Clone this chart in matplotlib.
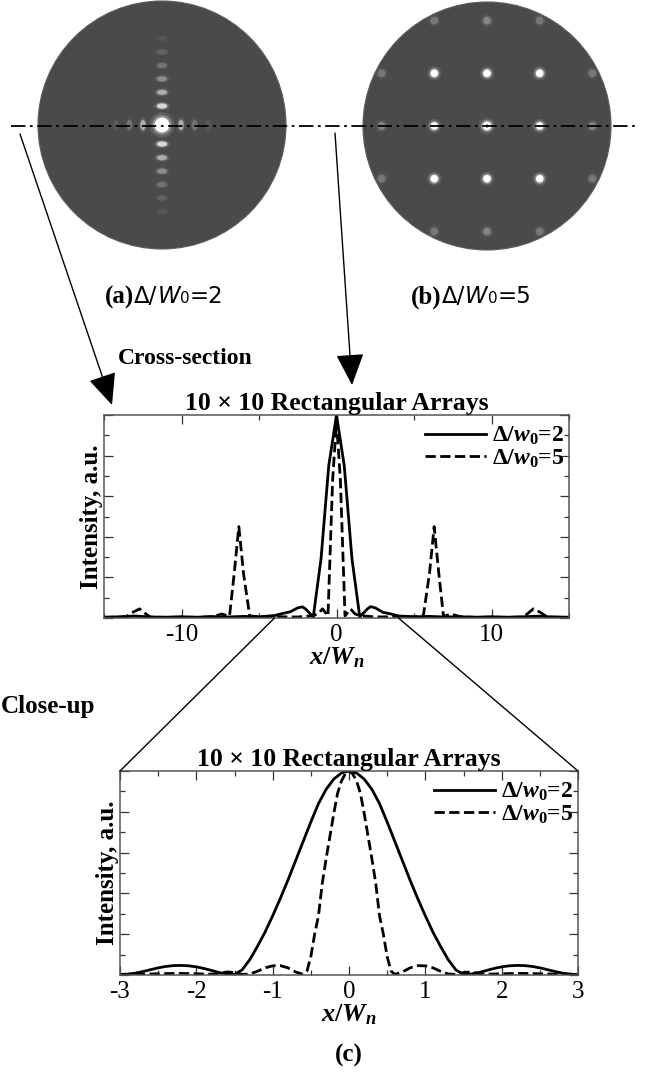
import numpy as np
import matplotlib
matplotlib.use('Agg')
import matplotlib.pyplot as plt
from matplotlib import rcParams
from matplotlib.patches import Circle, Ellipse, ConnectionPatch, FancyArrowPatch
from matplotlib.offsetbox import TextArea, HPacker, AnchoredOffsetbox
from matplotlib.ticker import MultipleLocator

rcParams['font.family'] = 'Liberation Serif'
rcParams['mathtext.fontset'] = 'custom'
rcParams['mathtext.rm'] = 'Liberation Serif:bold'
rcParams['mathtext.bf'] = 'Liberation Serif:bold'
rcParams['mathtext.it'] = 'Liberation Serif:italic:bold'
rcParams['axes.unicode_minus'] = False
rcParams['xtick.direction'] = 'in'
rcParams['ytick.direction'] = 'in'
rcParams['xtick.top'] = True
rcParams['ytick.right'] = True
rcParams['axes.linewidth'] = 1.1
rcParams['axes.edgecolor'] = '#555555'

# ---- far-field spots (positions in units of the spot spacing) ----
# (a) delta/w0 = 2 : single central lobe with sinc-like side lobes
spots_a_kx = [0, 0, 0, 0, 0, 0, 0, 0, 0, 0, 0, 0, 0,
              1.43, -1.43, 2.46, -2.46, 3.47, -3.47]
spots_a_ky = [0, 1.43, -1.43, 2.46, -2.46, 3.47, -3.47, 4.48, -4.48,
              5.5, -5.5, 6.5, -6.5,
              0, 0, 0, 0, 0, 0]
spots_a_level = [1.0, 0.7, 0.7, 0.45, 0.45, 0.28, 0.28, 0.17, 0.17,
                 0.1, 0.1, 0.05, 0.05,
                 0.45, 0.45, 0.18, 0.18, 0.07, 0.07]

# (b) delta/w0 = 5 : grating orders
spots_b_kx = [0, 1, -1, 0, 0, 1, 1, -1, -1,
              2, -2, 0, 0, 2, 2, -2, -2, 1, 1, -1, -1]
spots_b_ky = [0, 0, 0, 1, -1, 1, -1, 1, -1,
              0, 0, 2, -2, 1, -1, 1, -1, 2, -2, 2, -2]
spots_b_level = [1.0, 1.0, 1.0, 1.0, 1.0, 1.0, 1.0, 1.0, 1.0,
                 0.25, 0.25, 0.25, 0.25, 0.2, 0.2, 0.2, 0.2, 0.2, 0.2, 0.2, 0.2]

# ---- cross-section along x ----
cs_x_2 = [-15, -14, -13, -12, -11, -10, -9, -8, -7, -6, -5, -4, -3.5, -3,
          -2.5, -2.2, -2, -1.5, -1, -0.5, 0, 0.5, 1, 1.5, 2, 2.2, 2.5, 3,
          3.5, 4, 5, 6, 7, 8, 9, 10, 11, 12, 13, 14, 15]
cs_y_2 = [0.004, 0.006, 0.01, 0.005, 0.004, 0.006, 0.004, 0.007, 0.005,
          0.008, 0.006, 0.012, 0.022, 0.03, 0.05, 0.055, 0.045, 0.005,
          0.29, 0.75, 1.0, 0.75, 0.29, 0.006, 0.045, 0.056, 0.05, 0.028,
          0.02, 0.01, 0.006, 0.008, 0.005, 0.006, 0.004, 0.006, 0.004,
          0.006, 0.009, 0.005, 0.004]

cs_x_5 = [-15, -14, -13.6, -13.1, -12.7, -12.3, -12, -11, -10, -9, -8,
          -7.4, -7, -6.9, -6.6, -6.3, -6.0, -5.6, -5.2, -4.5, -3.5, -2.5,
          -1.5, -1.2, -0.9, -0.55, -0.25, 0, 0.25, 0.55, 0.9, 1.2, 1.5,
          2.5, 3.5, 4.5, 5.2, 5.6, 6.0, 6.3, 6.6, 6.9, 7, 7.4, 8, 9, 10,
          11, 12, 12.3, 12.7, 13.1, 13.6, 14, 15]
cs_y_5 = [0.003, 0.004, 0.005, 0.03, 0.045, 0.02, 0.004, 0.003, 0.004,
          0.003, 0.006, 0.02, 0.01, 0.01, 0.22, 0.45, 0.22, 0.01, 0.008,
          0.004, 0.006, 0.005, 0.012, 0.02, 0.045, 0.01, 0.68, 0.97, 0.68,
          0.01, 0.045, 0.02, 0.012, 0.005, 0.006, 0.004, 0.008, 0.01,
          0.22, 0.45, 0.22, 0.01, 0.01, 0.02, 0.006, 0.003, 0.004, 0.003,
          0.004, 0.02, 0.045, 0.03, 0.005, 0.004, 0.003]

# ---- close-up, -3 < x < 3 ----
cu_x_2 = [-3.0, -2.9, -2.8, -2.7, -2.6, -2.5, -2.4, -2.3, -2.2, -2.1, -2.0,
          -1.9, -1.8, -1.7, -1.6, -1.5, -1.4, -1.3, -1.2, -1.1, -1.0, -0.9,
          -0.8, -0.7, -0.6, -0.5, -0.4, -0.3, -0.2, -0.1, 0.0, 0.1, 0.2,
          0.3, 0.4, 0.5, 0.6, 0.7, 0.8, 0.9, 1.0, 1.1, 1.2, 1.3, 1.4, 1.5,
          1.6, 1.7, 1.8, 1.9, 2.0, 2.1, 2.2, 2.3, 2.4, 2.5, 2.6, 2.7, 2.8,
          2.9, 3.0]
cu_y_2 = [0.002, 0.004, 0.009, 0.017, 0.026, 0.035, 0.042, 0.046, 0.047,
          0.045, 0.04, 0.032, 0.022, 0.012, 0.005, 0.003, 0.025, 0.075,
          0.14, 0.21, 0.29, 0.375, 0.465, 0.56, 0.655, 0.75, 0.84, 0.91,
          0.96, 0.99, 1.0, 0.99, 0.96, 0.91, 0.84, 0.75, 0.655, 0.56,
          0.465, 0.375, 0.29, 0.21, 0.14, 0.075, 0.025, 0.003, 0.005,
          0.012, 0.022, 0.032, 0.04, 0.045, 0.047, 0.046, 0.042, 0.035,
          0.026, 0.017, 0.009, 0.004, 0.002]

cu_x_5 = [-3.0, -2.8, -2.6, -2.4, -2.2, -2.0, -1.8, -1.7, -1.6, -1.5, -1.4,
          -1.3, -1.2, -1.1, -1.0, -0.9, -0.8, -0.7, -0.6, -0.55, -0.5,
          -0.45, -0.4, -0.35, -0.3, -0.25, -0.2, -0.15, -0.1, -0.05, 0.0,
          0.05, 0.1, 0.15, 0.2, 0.25, 0.3, 0.35, 0.4, 0.45, 0.5, 0.55, 0.6,
          0.7, 0.8, 0.9, 1.0, 1.1, 1.2, 1.3, 1.4, 1.5, 1.6, 1.7, 1.8, 2.0,
          2.2, 2.4, 2.6, 2.8, 3.0]
cu_y_5 = [0.003, 0.004, 0.005, 0.007, 0.008, 0.006, 0.004, 0.008, 0.015,
          0.012, 0.003, 0.005, 0.018, 0.035, 0.045, 0.046, 0.035, 0.015,
          0.003, 0.02, 0.09, 0.2, 0.29, 0.45, 0.57, 0.68, 0.79, 0.89, 0.95,
          0.985, 1.0, 0.985, 0.95, 0.89, 0.79, 0.68, 0.57, 0.45, 0.29, 0.2,
          0.09, 0.02, 0.003, 0.015, 0.035, 0.046, 0.045, 0.035, 0.018,
          0.005, 0.003, 0.012, 0.015, 0.008, 0.004, 0.006, 0.008, 0.007,
          0.005, 0.004, 0.003]

zoom_span = (-4.0, 4.0)
series_labels = ['\u0394/$w_0$=2', '\u0394/$w_0$=5']
title = '10 \u00d7 10 Rectangular Arrays'

W, H = 649, 1072
fig = plt.figure(figsize=(W / 100, H / 100), dpi=100)


def px_axes(left, top, width, height):
    return fig.add_axes([left / W, 1 - (top + height) / H, width / W, height / H])


# ---- far-field images ----
def draw_disk(ax, kx, ky, level, pitch, core, glow):
    ax.set_xlim(-125, 125)
    ax.set_ylim(-125, 125)
    ax.axis('off')
    ax.add_patch(Circle((0, 0), 124, facecolor='#4a4a4a', edgecolor='#5c5c5c', lw=0.8))
    for x, y, lv in zip(kx, ky, level):
        if x == 0 and y == 0:
            w, h = core[0], core[0]
        elif x == 0:
            w, h = core[1], core[2]
        elif y == 0:
            w, h = core[2], core[1]
        else:
            w, h = core[3], core[3]
        cx, cy = x * pitch, y * pitch
        for scale, a in glow:
            ax.add_patch(Ellipse((cx, cy), 2 * w * scale, 2 * h * scale,
                                 facecolor='white', edgecolor='none', alpha=a * lv))


ax_a = px_axes(37, 0, 250, 250)
draw_disk(ax_a, spots_a_kx, spots_a_ky, spots_a_level, 13.3,
          core=(7.5, 5.0, 2.6, 4.0), glow=[(1.7, 0.12), (1.3, 0.3), (1.0, 1.0)])
ax_b = px_axes(362, 1, 250, 250)
draw_disk(ax_b, spots_b_kx, spots_b_ky, spots_b_level, 52.7,
          core=(4.4, 3.8, 3.8, 3.8), glow=[(1.9, 0.1), (1.4, 0.3), (1.0, 1.0)])
ax_b.add_patch(Circle((0, 0), 1.6, facecolor='#333333', edgecolor='none'))

# ---- cross-section ----
ax1 = px_axes(104, 415, 465, 203)
ax1.plot(cs_x_2, cs_y_2, color='k', lw=2.0, label=series_labels[0])
ax1.plot(cs_x_5, cs_y_5, color='k', lw=2.0, ls='--', label=series_labels[1])
ax1.set_xlim(-15, 15)
ax1.set_ylim(0, 1)
ax1.xaxis.set_major_locator(MultipleLocator(10))
ax1.xaxis.set_minor_locator(MultipleLocator(5))

# ---- close-up ----
ax2 = px_axes(120, 771, 458, 204)
ax2.plot(cu_x_2, cu_y_2, color='k', lw=2.0, label=series_labels[0])
ax2.plot(cu_x_5, cu_y_5, color='k', lw=2.0, ls='--', label=series_labels[1])
ax2.set_xlim(-3, 3)
ax2.set_ylim(0, 1)
ax2.xaxis.set_major_locator(MultipleLocator(1))
ax2.xaxis.set_minor_locator(MultipleLocator(0.5))

for ax in (ax1, ax2):
    ax.yaxis.set_major_locator(MultipleLocator(0.2))
    ax.yaxis.set_minor_locator(MultipleLocator(0.1))
    ax.tick_params(which='major', length=6.5, width=0.9, color='#333333',
                   labelsize=18, pad=4)
    ax.tick_params(which='minor', length=3.3, width=0.9, color='#333333')
    ax.tick_params(axis='y', labelleft=False)
    ax.set_title(title, fontsize=18.5, fontweight='bold', pad=3)
    ax.set_ylabel('Intensity, a.u.', fontsize=18, fontweight='bold', labelpad=-3)
    ax.set_xlabel('$x/W_n$', fontsize=19, labelpad=0)
    ax.legend(loc='upper right', bbox_to_anchor=(0.99, 0.95), frameon=False,
              handlelength=2.6, handletextpad=0.25,
              labelspacing=0.0, borderaxespad=0, borderpad=0,
              prop={'weight': 'bold', 'size': 17})

# lines from the cross-section to the close-up box
for x0, corner in zip(zoom_span, [(0, 1), (1, 1)]):
    con = ConnectionPatch(xyA=(x0, 0), coordsA=ax1.transData,
                          xyB=corner, coordsB=ax2.transAxes,
                          color='k', lw=1.0)
    fig.add_artist(con)

# ---- overlay in figure pixels: section line, arrows and captions ----
ov = fig.add_axes([0, 0, 1, 1], zorder=10)
ov.set_xlim(0, W)
ov.set_ylim(H, 0)
ov.axis('off')
ov.patch.set_alpha(0)

ov.plot([11, 637], [126, 126], color='k', lw=1.3, dashes=(8, 2.5, 1.5, 2.5))
for start, end in [((20, 134), (112, 405)), ((335, 133), (352, 385))]:
    ov.add_patch(FancyArrowPatch(start, end, arrowstyle='-|>,head_length=0.9,head_width=0.4',
                                 mutation_scale=22, lw=1.0, color='k',
                                 shrinkA=0, shrinkB=0))

for tag, val, cx in [('(a)', '2', 164), ('(b)', '5', 471)]:
    parts = [TextArea(tag, textprops=dict(family='Liberation Serif', weight='bold', size=18)),
             TextArea('\u0394/', textprops=dict(family='DejaVu Sans', size=16.5)),
             TextArea('W', textprops=dict(family='DejaVu Sans', style='italic', size=16.5)),
             TextArea('0', textprops=dict(family='DejaVu Sans', size=11)),
             TextArea('=' + val, textprops=dict(family='DejaVu Sans', size=16.5))]
    pack = HPacker(children=parts, align='baseline', pad=0, sep=0)
    box = AnchoredOffsetbox(loc='center', child=pack, pad=0, borderpad=0, frameon=False,
                            bbox_to_anchor=(cx, 297), bbox_transform=ov.transData)
    ov.add_artist(box)

ov.text(185, 358, 'Cross-section', fontsize=17, fontweight='bold', ha='center', va='center')
ov.text(1, 707, 'Close-up', fontsize=18, fontweight='bold', ha='left', va='center')
ov.text(349, 1055, '(c)', fontsize=18, fontweight='bold', ha='center', va='center')

fig.savefig('out.png', dpi=100)
